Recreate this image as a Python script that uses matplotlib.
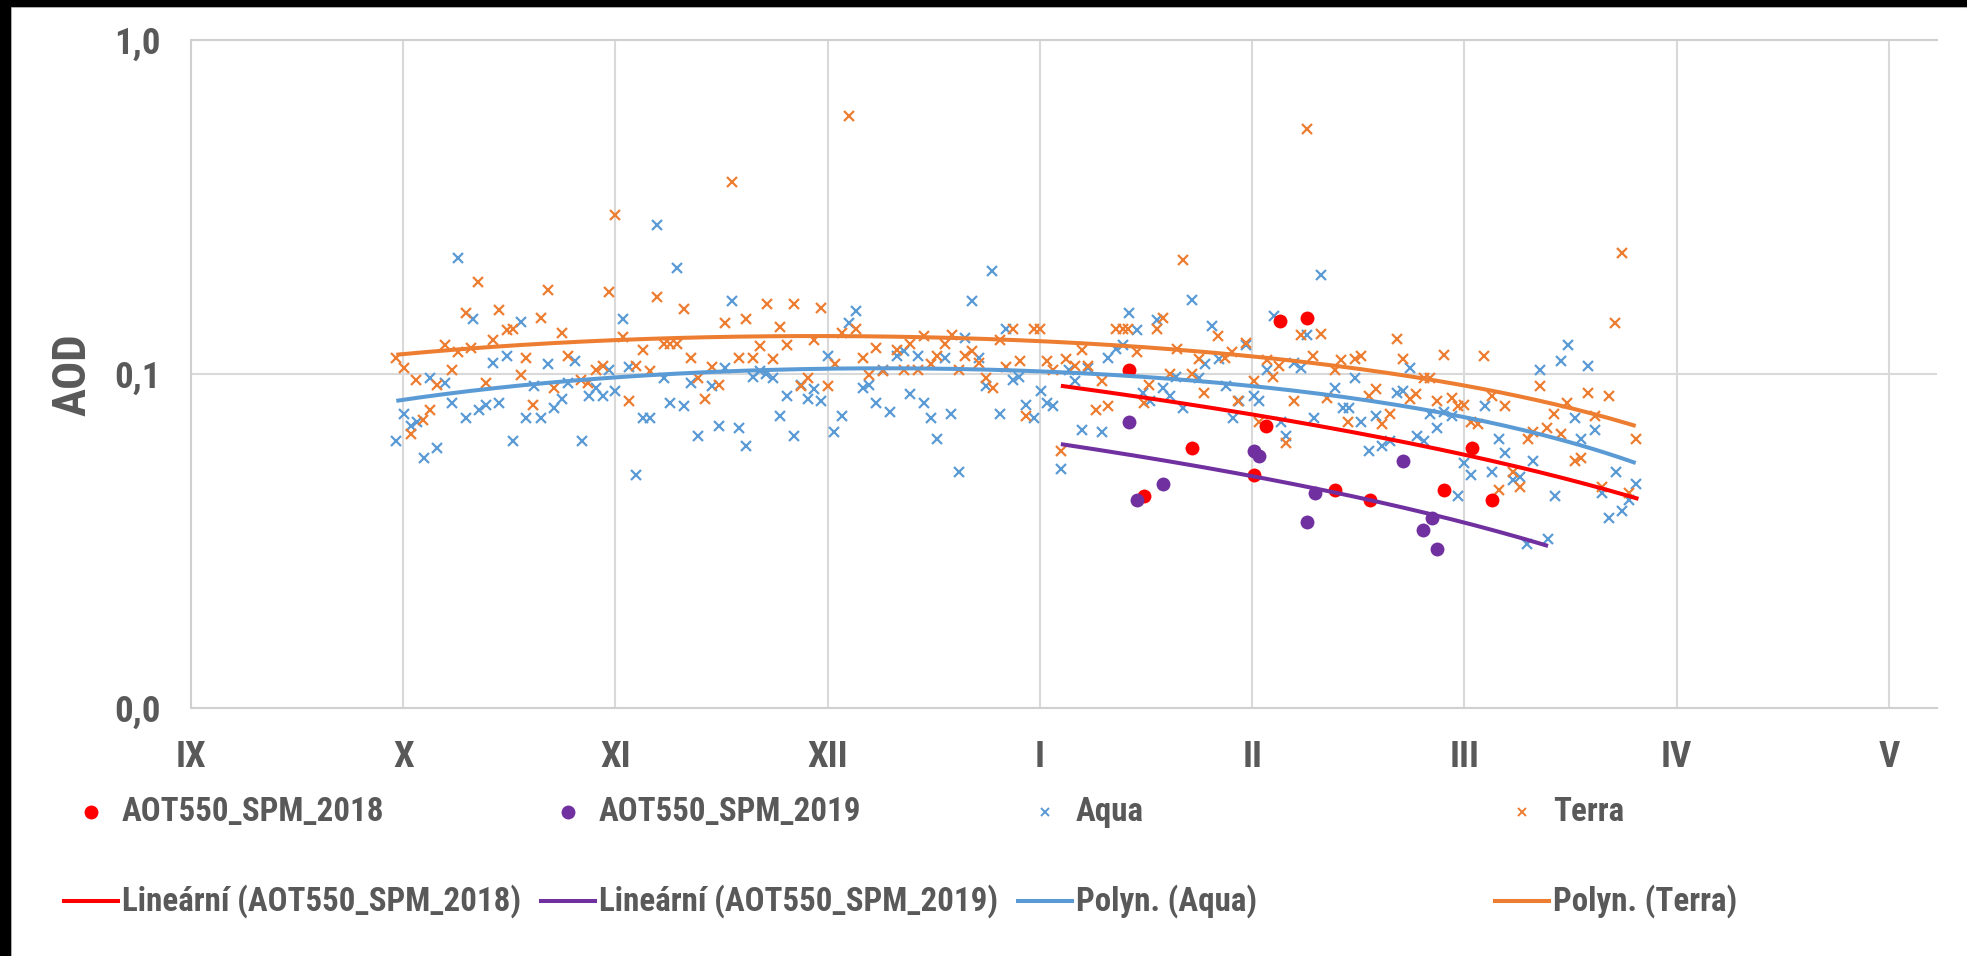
import numpy as np
import matplotlib
matplotlib.use("Agg")
import matplotlib.pyplot as plt
from matplotlib import font_manager
from matplotlib.lines import Line2D
from matplotlib.patches import Rectangle
from matplotlib.ticker import FixedLocator, FuncFormatter
from matplotlib.textpath import TextPath
from matplotlib.font_manager import FontProperties

installed = {f.name for f in font_manager.fontManager.ttflist}
for fam in ["Liberation Sans Narrow", "Roboto Condensed", "Lato", "DejaVu Sans"]:
    if fam in installed:
        FONT = fam
        break
plt.rcParams['font.family'] = [FONT, 'DejaVu Sans']


def size_for(text, target_px, weight="bold"):
    # font size (pt) that makes text about target_px wide at 100 dpi
    w = TextPath((0, 0), text, size=100, prop=FontProperties(family=FONT, weight=weight)).get_extents().width
    return 100 * target_px / (w * 100 / 72)


# x = days since 1 September; month gridlines every 30.5 days
month_labels = ["IX", "X", "XI", "XII", "I", "II", "III", "IV", "V"]
month_len = 30.5

aqua_day = [29.5, 30.6, 31.6, 32.5, 33.5, 34.4, 35.4, 36.5, 37.5, 38.4, 39.5, 40.5, 41.4, 42.4, 43.4,
            44.3, 45.4, 46.2, 47.4, 48.2, 49.3, 50.3, 51.3, 52.2, 53.3, 54.2, 55.2, 56.2, 57.2, 58.2,
            59.2, 60.1, 61.0, 62.1, 63.0, 63.9, 65.0, 65.9, 66.9, 67.9, 68.9, 69.9, 70.8, 71.8, 72.9,
            74.8, 75.9, 76.8, 77.8, 78.8, 79.8, 80.7, 81.7, 82.6, 83.6, 84.6, 85.7, 86.6, 87.6, 88.6,
            89.5, 90.6, 91.5, 92.4, 93.6, 94.6, 95.5, 96.5, 97.5, 98.5, 99.4, 100.4, 101.5, 102.5, 103.3,
            104.4, 105.3, 106.3, 107.2, 108.3, 109.2, 110.3, 111.2, 112.2, 113.3, 114.2, 115.1, 116.2, 117.1, 118.1,
            119.0, 120.0, 121.1, 122.1, 123.0, 123.9, 125.0, 126.1, 127.0, 128.0, 128.9, 130.9, 131.8, 132.9, 133.9,
            134.8, 135.9, 136.8, 137.8, 138.8, 139.7, 140.7, 141.6, 142.6, 143.8, 144.8, 145.7, 146.7, 147.7, 148.7,
            149.7, 150.6, 151.6, 152.7, 153.5, 154.6, 155.6, 156.6, 157.4, 158.5, 159.5, 160.4, 161.4, 162.4, 164.4,
            165.6, 166.4, 167.3, 168.2, 169.3, 170.3, 171.2, 172.3, 173.3, 174.1, 175.2, 176.2, 177.2, 178.1, 179.1,
            180.1, 181.2, 182.0, 182.9, 184.0, 185.9, 187.0, 188.0, 188.8, 189.9, 191.0, 192.0, 192.9, 193.8, 195.0,
            196.0, 196.8, 197.9, 198.9, 199.7, 200.8, 201.8, 202.7, 203.8, 204.8, 205.7, 206.7, 207.6]
aqua_aod = [0.063, 0.076, 0.070, 0.072, 0.056, 0.097, 0.060, 0.094, 0.082, 0.223, 0.074, 0.146, 0.078, 0.081, 0.108,
            0.082, 0.113, 0.063, 0.143, 0.074, 0.092, 0.074, 0.107, 0.079, 0.084, 0.094, 0.109, 0.063, 0.086, 0.091,
            0.086, 0.103, 0.089, 0.146, 0.105, 0.050, 0.074, 0.074, 0.280, 0.097, 0.082, 0.208, 0.080, 0.094, 0.065,
            0.092, 0.070, 0.104, 0.165, 0.069, 0.061, 0.098, 0.102, 0.100, 0.097, 0.075, 0.086, 0.065, 0.093, 0.084,
            0.090, 0.083, 0.113, 0.067, 0.075, 0.142, 0.154, 0.091, 0.093, 0.082, 0.103, 0.077, 0.113, 0.117, 0.087,
            0.113, 0.082, 0.074, 0.064, 0.112, 0.076, 0.051, 0.128, 0.165, 0.112, 0.092, 0.204, 0.076, 0.136, 0.096,
            0.098, 0.081, 0.074, 0.089, 0.082, 0.080, 0.052, 0.103, 0.095, 0.068, 0.104, 0.067, 0.112, 0.119, 0.122,
            0.152, 0.135, 0.088, 0.083, 0.145, 0.091, 0.086, 0.098, 0.079, 0.166, 0.097, 0.107, 0.139, 0.111, 0.092,
            0.074, 0.083, 0.122, 0.086, 0.083, 0.103, 0.149, 0.072, 0.065, 0.108, 0.104, 0.131, 0.074, 0.198, 0.091,
            0.079, 0.079, 0.097, 0.072, 0.059, 0.075, 0.061, 0.063, 0.088, 0.089, 0.104, 0.065, 0.063, 0.076, 0.069,
            0.077, 0.075, 0.043, 0.054, 0.050, 0.080, 0.051, 0.064, 0.058, 0.048, 0.049, 0.031, 0.055, 0.103, 0.032,
            0.043, 0.109, 0.122, 0.074, 0.064, 0.106, 0.068, 0.044, 0.037, 0.051, 0.039, 0.042, 0.047]

terra_day = [29.5, 30.6, 31.6, 32.4, 33.4, 34.4, 35.4, 36.5, 37.5, 38.3, 39.5, 40.3, 41.3, 42.4, 43.4,
             44.3, 45.4, 46.2, 47.4, 48.2, 49.2, 50.3, 51.3, 52.2, 53.3, 54.2, 56.1, 57.1, 58.2, 59.2,
             60.1, 61.0, 62.1, 63.0, 63.9, 65.0, 65.9, 66.9, 67.9, 68.8, 69.8, 70.8, 71.8, 72.9, 73.9,
             74.8, 75.9, 76.8, 77.8, 78.8, 79.8, 80.7, 81.8, 82.7, 83.7, 84.7, 85.7, 86.6, 87.6, 88.6,
             89.5, 90.6, 91.6, 92.5, 93.6, 94.6, 95.5, 96.5, 97.5, 98.5, 99.5, 101.4, 102.5, 103.3, 104.4,
             105.3, 106.3, 107.2, 108.3, 109.3, 110.3, 111.2, 112.2, 113.3, 114.2, 115.2, 116.2, 117.1, 118.1, 119.1,
             120.0, 121.1, 122.0, 123.0, 123.9, 125.0, 125.8, 127.0, 128.0, 128.9, 130.0, 130.9, 131.8, 132.9, 133.9,
             134.7, 135.9, 136.9, 137.7, 138.8, 139.7, 140.7, 141.7, 142.6, 143.8, 144.8, 145.6, 147.6, 148.6, 149.6,
             150.5, 151.6, 152.7, 153.5, 154.6, 155.5, 156.4, 157.4, 158.5, 159.5, 160.3, 161.3, 162.4, 163.3, 164.4,
             165.3, 166.2, 167.3, 168.2, 169.3, 170.3, 171.2, 172.3, 173.3, 174.1, 175.2, 176.1, 177.2, 178.1, 179.1,
             180.1, 181.2, 182.0, 182.9, 184.0, 185.0, 185.8, 187.0, 188.0, 188.8, 189.9, 191.0, 192.1, 192.9, 193.8,
             194.9, 195.9, 196.8, 197.8, 198.9, 199.7, 200.8, 201.8, 202.7, 203.8, 204.6, 205.6, 206.7, 207.6]
terra_aod = [0.112, 0.104, 0.066, 0.096, 0.073, 0.078, 0.093, 0.122, 0.103, 0.116, 0.152, 0.120, 0.188, 0.094, 0.126,
             0.155, 0.135, 0.136, 0.099, 0.112, 0.081, 0.147, 0.178, 0.091, 0.133, 0.113, 0.096, 0.094, 0.103, 0.106,
             0.176, 0.299, 0.129, 0.083, 0.106, 0.118, 0.102, 0.170, 0.123, 0.123, 0.123, 0.156, 0.112, 0.097, 0.084,
             0.105, 0.093, 0.142, 0.375, 0.112, 0.146, 0.112, 0.121, 0.162, 0.111, 0.138, 0.122, 0.162, 0.092, 0.097,
             0.126, 0.158, 0.092, 0.107, 0.133, 0.594, 0.136, 0.112, 0.099, 0.120, 0.102, 0.118, 0.103, 0.123, 0.103,
             0.130, 0.107, 0.113, 0.123, 0.131, 0.103, 0.113, 0.117, 0.108, 0.097, 0.091, 0.126, 0.105, 0.136, 0.109,
             0.075, 0.136, 0.136, 0.109, 0.103, 0.059, 0.111, 0.106, 0.118, 0.106, 0.078, 0.095, 0.080, 0.136, 0.136,
             0.136, 0.116, 0.082, 0.093, 0.136, 0.147, 0.100, 0.119, 0.219, 0.100, 0.111, 0.088, 0.130, 0.112, 0.116,
             0.083, 0.124, 0.095, 0.072, 0.110, 0.098, 0.106, 0.062, 0.083, 0.131, 0.542, 0.113, 0.132, 0.085, 0.103,
             0.110, 0.072, 0.111, 0.113, 0.086, 0.090, 0.071, 0.076, 0.127, 0.111, 0.084, 0.087, 0.097, 0.097, 0.083,
             0.114, 0.085, 0.080, 0.081, 0.072, 0.071, 0.113, 0.086, 0.045, 0.080, 0.051, 0.046, 0.064, 0.067, 0.092,
             0.069, 0.076, 0.066, 0.082, 0.055, 0.056, 0.088, 0.075, 0.046, 0.086, 0.142, 0.230, 0.044, 0.064]

spm2018_day = [134.8, 136.9, 143.8, 152.7, 154.5, 156.5, 160.3, 164.4, 169.4, 180.1, 184.1, 187.0]
spm2018_aod = [0.103, 0.043, 0.060, 0.050, 0.070, 0.144, 0.147, 0.045, 0.042, 0.045, 0.060, 0.042]
spm2019_day = [134.8, 135.9, 139.7, 152.7, 153.5, 160.3, 161.5, 174.2, 177.1, 178.3, 179.1]
spm2019_aod = [0.072, 0.042, 0.047, 0.059, 0.057, 0.036, 0.044, 0.055, 0.034, 0.037, 0.030]
# x span of the linear trendlines (series range in the workbook)
spm2018_span = [125.0, 208.0]
spm2019_span = [125.0, 195.0]

C_RED = "#FF0000"
C_PURPLE = "#7030A0"
C_AQUA = "#5B9BD5"
C_TERRA = "#ED7D31"
C_TEXT = "#595959"
C_GRID = "#D9D9D9"

FS = size_for("AOT550_SPM_2018", 261)
FS_TICK = size_for("0,1", 39)
FS_AOD = size_for("AOD", 80)

fig = plt.figure(figsize=(19.67, 9.56), dpi=100)
ax = fig.add_axes([191 / 1967, 1 - 708 / 956, (1937 - 191) / 1967, (708 - 40) / 956])

ax.plot(aqua_day, aqua_aod, "x", color=C_AQUA, ms=7.5, mew=1.6, zorder=3)
ax.plot(terra_day, terra_aod, "x", color=C_TERRA, ms=7.5, mew=1.6, zorder=3)
ax.plot(spm2018_day, spm2018_aod, "o", color=C_RED, ms=10, mec="none", zorder=4)
ax.plot(spm2019_day, spm2019_aod, "o", color=C_PURPLE, ms=10, mec="none", zorder=4)

# trendlines, fitted on linear values like Excel does
for xs, ys, color, deg, span in [
        (spm2018_day, spm2018_aod, C_RED, 1, spm2018_span),
        (spm2019_day, spm2019_aod, C_PURPLE, 1, spm2019_span),
        (aqua_day, aqua_aod, C_AQUA, 2, [min(aqua_day), max(aqua_day)]),
        (terra_day, terra_aod, C_TERRA, 2, [min(terra_day), max(terra_day)])]:
    coef = np.polyfit(xs, ys, deg)
    xx = np.linspace(span[0], span[1], 200)
    ax.plot(xx, np.polyval(coef, xx), color=color, lw=2.9, zorder=5, solid_capstyle="butt")

ax.set_yscale("log")
ax.set_ylim(0.01, 1.0)
ax.set_xlim(0, 8 * month_len + 6.9)
ax.yaxis.set_major_locator(FixedLocator([0.01, 0.1, 1.0]))
ax.yaxis.set_minor_locator(FixedLocator([]))
ax.yaxis.set_major_formatter(FuncFormatter(lambda v, p: f"{v:.1f}".replace(".", ",")))
ax.set_xticks([k * month_len for k in range(len(month_labels))])
ax.set_xticklabels(month_labels)

ax.grid(True, color=C_GRID, lw=1.5)
ax.set_axisbelow(True)
for side in ["left", "top", "bottom"]:
    ax.spines[side].set_color("#D0D0D0")
    ax.spines[side].set_linewidth(1.5)
ax.spines["right"].set_visible(False)
ax.tick_params(length=0, labelsize=FS_TICK, labelcolor=C_TEXT)
ax.tick_params(axis="y", pad=22)
ax.tick_params(axis="x", pad=22)
for lab in ax.get_xticklabels() + ax.get_yticklabels():
    lab.set_fontweight("bold")

fig.text(72 / 1967, 1 - 375 / 956, "AOD", rotation=90, ha="center", va="center",
         fontsize=FS_AOD, fontweight="bold", color=C_TEXT)


# legend, laid out like the Excel one (4 equal columns, 2 rows)
def fx(px):
    return px / 1967


def fy(py):
    return 1 - py / 956


col_start = [64, 541, 1018, 1495]
row_y = [812, 901]

marker_entries = [
    ("o", C_RED, 10, "AOT550_SPM_2018"),
    ("o", C_PURPLE, 10, "AOT550_SPM_2019"),
    ("x", C_AQUA, 6, "Aqua"),
    ("x", C_TERRA, 6, "Terra"),
]
for x0, (mk, col, size, label) in zip(col_start, marker_entries):
    fig.add_artist(Line2D([fx(x0 + 27)], [fy(row_y[0])], marker=mk, color=col, ms=size, mew=1.4,
                          mec=col if mk == "x" else "none", linestyle="none"))
    fig.text(fx(x0 + 58), fy(row_y[0]), label, ha="left", va="center", fontsize=FS,
             fontweight="bold", color=C_TEXT)

line_entries = [
    (C_RED, "Lineární (AOT550_SPM_2018)"),
    (C_PURPLE, "Lineární (AOT550_SPM_2019)"),
    (C_AQUA, "Polyn. (Aqua)"),
    (C_TERRA, "Polyn. (Terra)"),
]
for x0, (col, label) in zip(col_start, line_entries):
    fig.add_artist(Line2D([fx(x0), fx(x0 + 54)], [fy(row_y[1]), fy(row_y[1])], color=col, lw=2.9))
    fig.text(fx(x0 + 58), fy(row_y[1]), label, ha="left", va="center", fontsize=FS,
             fontweight="bold", color=C_TEXT)

# black screenshot margins and chart-area border
fig.add_artist(Rectangle((0, 1 - 6 / 956), 1, 6 / 956, transform=fig.transFigure,
                         color="black", zorder=10))
fig.add_artist(Rectangle((0, 0), 10 / 1967, 1, transform=fig.transFigure,
                         color="black", zorder=10))
fig.add_artist(Line2D([fx(11), fx(11)], [0, fy(7)], color="#D9D9D9", lw=1.5))
fig.add_artist(Line2D([fx(11), 1], [fy(7), fy(7)], color="#D9D9D9", lw=1.5))

fig.savefig("out.png", dpi=100)
